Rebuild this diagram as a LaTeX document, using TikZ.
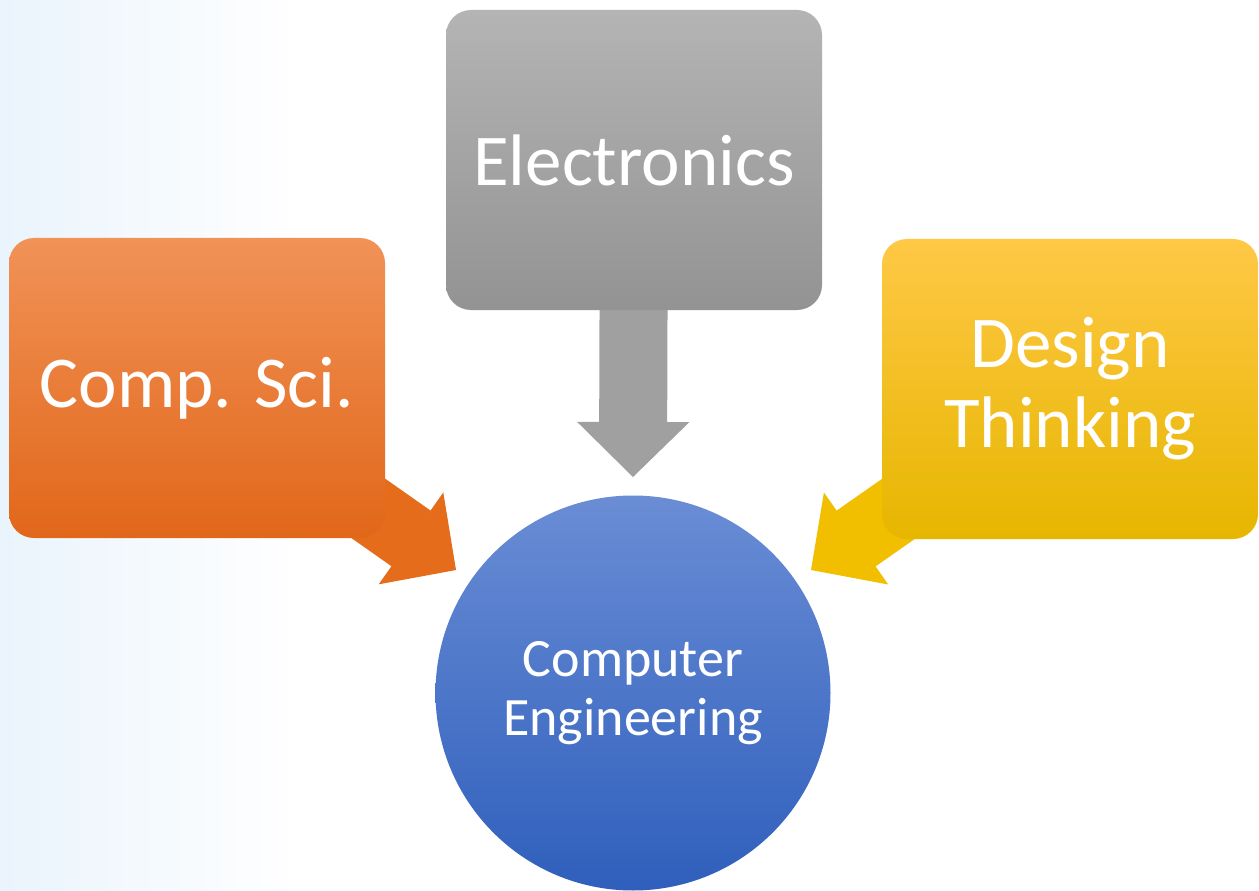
\documentclass[tikz,border=0pt]{standalone}
\usepackage{fontspec}
\setmainfont{Carlito}
\usetikzlibrary{arrows.meta, positioning, backgrounds}
\definecolor{bgblue}{HTML}{EAF4FC}
\definecolor{electop}{HTML}{B4B4B4}
\definecolor{elecbot}{HTML}{939393}
\definecolor{comptop}{HTML}{F19257}
\definecolor{compbot}{HTML}{E1671A}
\definecolor{designtop}{HTML}{FFC846}
\definecolor{designbot}{HTML}{E6B600}
\definecolor{cpetop}{HTML}{6A8DD5}
\definecolor{cpebot}{HTML}{2F5FBC}
\definecolor{elecarrow}{HTML}{A0A0A0}
\definecolor{comparrow}{HTML}{E56C1A}
\definecolor{designarrow}{HTML}{F1BE00}
\tikzset{
	topicbox/.style={rounded corners=25pt, minimum width=376pt, minimum height=300pt,
		text=white, align=center, font=\fontsize{73}{80}\selectfont},
	blockarrow/.style={line width=68pt,
		-{Triangle[length=55pt, width=112pt, line width=1.5pt]}},
}

\begin{document}
\begin{tikzpicture}[x=1pt, y=-1pt]
	% the three feeding subjects
	\node[topicbox, top color=electop, bottom color=elecbot] (elec) at (634,160) {Electronics};
	\node[topicbox, top color=comptop, bottom color=compbot] (comp) at (197,388) {Comp. Sci.};
	\node[topicbox, top color=designtop, bottom color=designbot] (design) at (1070,389) {Design\\Thinking};
	% the result
	\node[circle, minimum size=395pt, top color=cpetop, bottom color=cpebot, text=white,
		align=center, font=\fontsize{54}{59}\selectfont] (cpe) at (633,693) {Computer\\Engineering};
	\coordinate (electip) at (633,477);
	\coordinate (comptip) at (456,570);
	\coordinate (designtip) at (811,570);
	\begin{scope}[on background layer]
		\path[use as bounding box, fill=white] (0,0) rectangle (1259,890);
		\shade[left color=bgblue, right color=white] (0,0) rectangle (300,890);
		\draw[blockarrow, elecarrow] (elec.center) -- (electip);
		\draw[blockarrow, comparrow] (comp.center) -- (comptip);
		\draw[blockarrow, designarrow] (design.center) -- (designtip);
	\end{scope}
\end{tikzpicture}
\end{document}
